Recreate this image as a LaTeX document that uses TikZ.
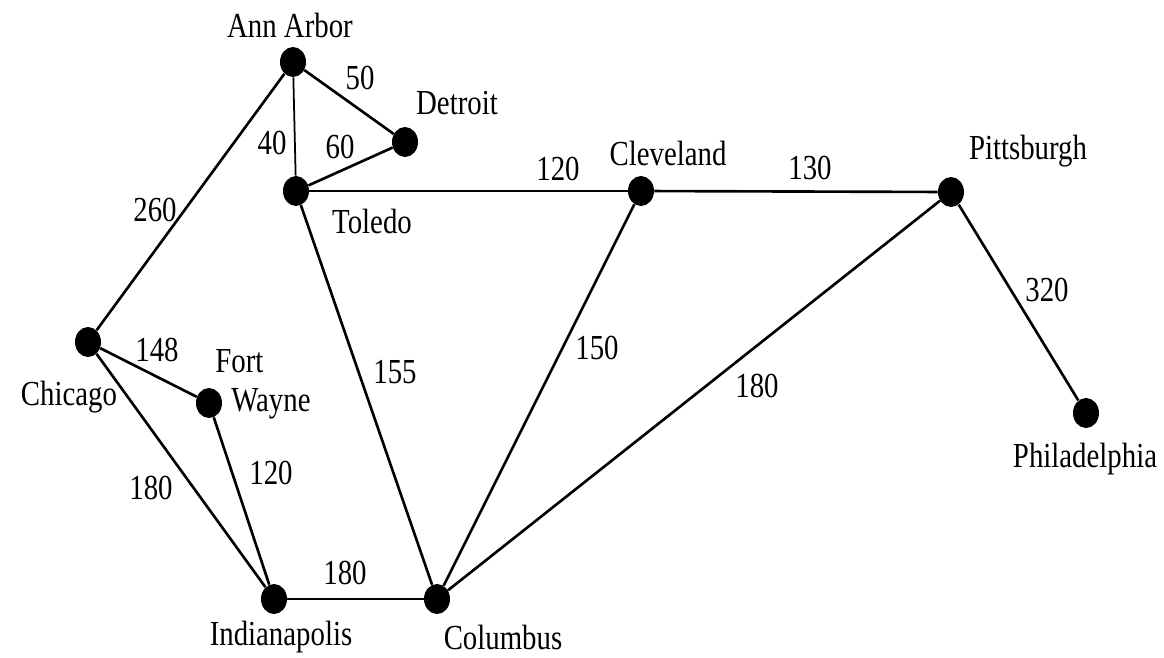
\documentclass[tikz,border=0pt]{standalone}
\usepackage{fontspec}
\setmainfont{Liberation Serif}[FakeStretch=0.82]
\usepackage{tikz}
\usetikzlibrary{positioning, shapes.geometric, calc}

\begin{document}
\begin{tikzpicture}[
    x=0.02cm, y=-0.02cm,
    city/.style={ellipse, fill=black, inner sep=0pt, minimum width=0.52cm, minimum height=0.6cm},
    citylabel/.style={font=\fontsize{20}{22}\selectfont, inner sep=0pt},
    distlabel/.style={font=\fontsize{20}{22}\selectfont, inner sep=0pt},
    road/.style={line width=1.5pt}
]
    \useasboundingbox (0,0) rectangle (1164,657);

    % cities
    \node[city] (ann) at (293, 62) {};
    \node[city] (det) at (405, 142) {};
    \node[city] (tol) at (296, 191) {};
    \node[city] (cle) at (641, 191) {};
    \node[city] (pit) at (951, 192) {};
    \node[city] (phi) at (1086, 413) {};
    \node[city] (chi) at (88, 342) {};
    \node[city] (fwa) at (209, 403) {};
    \node[city] (ind) at (274, 599) {};
    \node[city] (col) at (437, 599) {};

    \node[citylabel] (annl) at (290, 25) {Ann Arbor};
    \node[citylabel] (detl) at (457, 103) {Detroit};
    \node[citylabel] (toll) at (372, 221) {Toledo};
    \node[citylabel] (clel) at (668, 153) {Cleveland};
    \node[citylabel] (pitl) at (1028, 151) {Pittsburgh};
    \node[citylabel] (phil) at (1085, 459) {Philadelphia};
    \node[citylabel] (chil) at (69, 397) {Chicago};
    \node[citylabel, align=left] (fwal) at (263, 384) {Fort\\\hspace*{0.45em}Wayne};
    \node[citylabel] (indl) at (281, 637) {Indianapolis};
    \node[citylabel] (coll) at (503, 637) {Columbus};

    % roads
    \draw[line width=1pt] (ann) -- (tol);
    \draw[road] (ann) -- (det);
    \draw[road] (tol) -- (det);
    \draw[road] (ann) -- (chi);
    \draw[road] (tol) -- (cle);
    \draw[road] (cle) -- (pit);
    \draw[road] (pit) -- (phi);
    \draw[road] (chi) -- (fwa);
    \draw[road] (chi) -- (ind);
    \draw[road] (fwa) -- (ind);
    \draw[road] (ind) -- (col);
    \draw[road] (tol) -- (col);
    \draw[road] (cle) -- (col);
    \draw[road] (pit) -- (col);

    \node[distlabel] (d1) at (360, 78) {50};
    \node[distlabel] (d2) at (272, 143) {40};
    \node[distlabel] (d3) at (340, 147) {60};
    \node[distlabel] (d4) at (155, 210) {260};
    \node[distlabel] (d5) at (558, 169) {120};
    \node[distlabel] (d6) at (810, 168) {130};
    \node[distlabel] (d7) at (1047, 290) {320};
    \node[distlabel] (d8) at (157, 350) {148};
    \node[distlabel] (d9) at (395, 372) {155};
    \node[distlabel] (d10) at (597, 348) {150};
    \node[distlabel] (d11) at (757, 386) {180};
    \node[distlabel] (d12) at (151, 488) {180};
    \node[distlabel] (d13) at (271, 473) {120};
    \node[distlabel] (d14) at (345, 573) {180};
\end{tikzpicture}
\end{document}
